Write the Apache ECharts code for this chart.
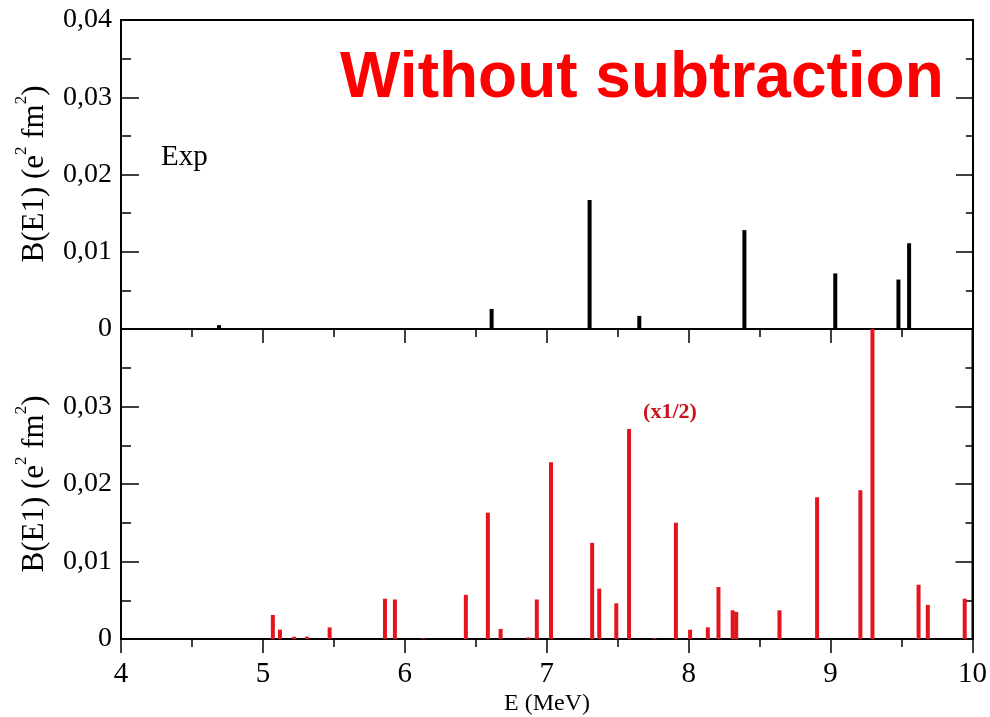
<!DOCTYPE html>
<html><head><meta charset="utf-8">
<script src="https://cdn.jsdelivr.net/npm/echarts@6/dist/echarts.min.js"></script>
<style>html,body{margin:0;padding:0;background:#fff}#c{width:990px;height:717px}</style>
</head><body><div id="c"></div>
<script>
// x axis tick labels (E in MeV)
const xTickLabels = ['4','5','6','7','8','9','10'];
// y tick labels
const yLabelsTop = ['0','0,01','0,02','0,03','0,04'];
const yLabelsBottom = ['0','0,01','0,02','0,03',''];
// Experimental B(E1) (top panel)
const expE = [4.69, 6.61, 7.30, 7.65, 8.39, 9.03, 9.475, 9.55];
const expB = [0.0005, 0.0026, 0.0167, 0.0017, 0.0128, 0.0072, 0.0064, 0.0111];
// Calculated B(E1) without subtraction (bottom panel)
const thE = [5.07, 5.12, 5.22, 5.31, 5.47, 5.86, 5.93, 6.13, 6.43, 6.585, 6.675, 6.87, 6.93, 7.03, 7.32, 7.37, 7.49, 7.58, 7.76, 7.91, 8.01, 8.135, 8.21, 8.31, 8.335, 8.64, 8.905, 9.21, 9.295, 9.62, 9.685, 9.945];
const thB = [0.0031, 0.0012, 0.0003, 0.0003, 0.0015, 0.0052, 0.0051, 0.0001, 0.0057, 0.0163, 0.0013, 0.0002, 0.0051, 0.0228, 0.0124, 0.0065, 0.0046, 0.0271, 0.0001, 0.0150, 0.0012, 0.0015, 0.0067, 0.0037, 0.0035, 0.0037, 0.0183, 0.0192, 0.0450, 0.0070, 0.0044, 0.0052];

const serif = '"Liberation Serif", "Times New Roman", serif';
const chart = echarts.init(document.getElementById('c'), null, {renderer: 'canvas'});

function xAxis(gi, showLabels) {
  return {
    type: 'value', gridIndex: gi, min: 4, max: 10, interval: 1, position: 'bottom',
    axisLine: {show: true, lineStyle: {color: '#000', width: 2}},
    axisTick: {show: true, inside: false, length: 14, lineStyle: {color: '#000', width: 1.5}},
    minorTick: {show: true, splitNumber: 2, length: 8, lineStyle: {color: '#000', width: 1.5}},
    splitLine: {show: false},
    axisLabel: {show: showLabels, margin: 21, color: '#000', fontFamily: serif, fontSize: 29,
      formatter: v => xTickLabels[Math.round(v - 4)]}
  };
}
function yAxis(gi, labels) {
  return {
    type: 'value', gridIndex: gi, min: 0, max: 0.04, interval: 0.01, position: 'left',
    axisLine: {show: true, lineStyle: {color: '#000', width: 2}},
    axisTick: {show: true, inside: true, length: 18, lineStyle: {color: '#000', width: 1.5}},
    minorTick: {show: true, splitNumber: 2, length: 10, lineStyle: {color: '#000', width: 1.5}},
    splitLine: {show: false},
    axisLabel: {show: true, margin: 9, color: '#000', fontFamily: serif, fontSize: 28,
      formatter: v => labels[Math.round(v / 0.01)]}
  };
}
function yAxisRight(gi) {
  return {
    type: 'value', gridIndex: gi, min: 0, max: 0.04, interval: 0.01, position: 'right',
    axisLine: {show: true, lineStyle: {color: '#000', width: 2}},
    axisTick: {show: true, inside: true, length: 17, lineStyle: {color: '#000', width: 1.5}},
    minorTick: {show: true, splitNumber: 2, length: 7, lineStyle: {color: '#000', width: 1.5}},
    splitLine: {show: false},
    axisLabel: {show: false}
  };
}
const yName = {
  n: {fontFamily: serif, fontSize: 31, lineHeight: 37, fill: '#000', verticalAlign: 'bottom'},
  s: {fontFamily: serif, fontSize: 17, lineHeight: 37, fill: '#000', verticalAlign: 'top'}
};
const option = {
  animation: false,
  backgroundColor: '#fff',
  grid: [
    {left: 121, right: 17, top: 20, height: 309, show: true, borderColor: '#000', borderWidth: 2, backgroundColor: 'transparent'},
    {left: 121, right: 17, top: 329, height: 310, show: true, borderColor: '#000', borderWidth: 2, backgroundColor: 'transparent'}
  ],
  xAxis: [xAxis(0, false), xAxis(1, true)],
  yAxis: [yAxis(0, yLabelsTop), yAxis(1, yLabelsBottom), yAxisRight(0), yAxisRight(1)],
  series: [
    {type: 'bar', xAxisIndex: 0, yAxisIndex: 0, barWidth: 4, clip: true,
      itemStyle: {color: '#000'}, data: expE.map((e, i) => [e, expB[i]])},
    {type: 'bar', xAxisIndex: 1, yAxisIndex: 1, barWidth: 4, clip: true,
      itemStyle: {color: '#e3141c'}, data: thE.map((e, i) => [e, thB[i]])}
  ],
  graphic: [
    {type: 'text', x: 340, y: 79, z: 100, style: {text: 'Without subtraction', fontFamily: '"Liberation Sans", Arial, sans-serif',
      fontWeight: 'bold', fontSize: 64, fill: '#ff0000', align: 'left', verticalAlign: 'middle'}},
    {type: 'text', x: 161, y: 157, style: {text: 'Exp', fontFamily: serif, fontSize: 29, fill: '#000', align: 'left', verticalAlign: 'middle'}},
    {type: 'text', x: 670, y: 412, style: {text: '(x1/2)', fontFamily: serif, fontWeight: 'bold', fontSize: 22, fill: '#c8141c', align: 'center', verticalAlign: 'middle'}},
    {type: 'text', x: 547, y: 704, style: {text: 'E (MeV)', fontFamily: serif, fontSize: 24, fill: '#000', align: 'center', verticalAlign: 'middle'}},
    {type: 'text', x: 32, y: 174, rotation: Math.PI / 2, style: {text: '{n|B(E1) (e}{s|2}{n| fm}{s|2}{n|)}', rich: yName, align: 'center', verticalAlign: 'middle'}},
    {type: 'text', x: 32, y: 484, rotation: Math.PI / 2, style: {text: '{n|B(E1) (e}{s|2}{n| fm}{s|2}{n|)}', rich: yName, align: 'center', verticalAlign: 'middle'}}
  ]
};
chart.setOption(option);
</script>
</body></html>
